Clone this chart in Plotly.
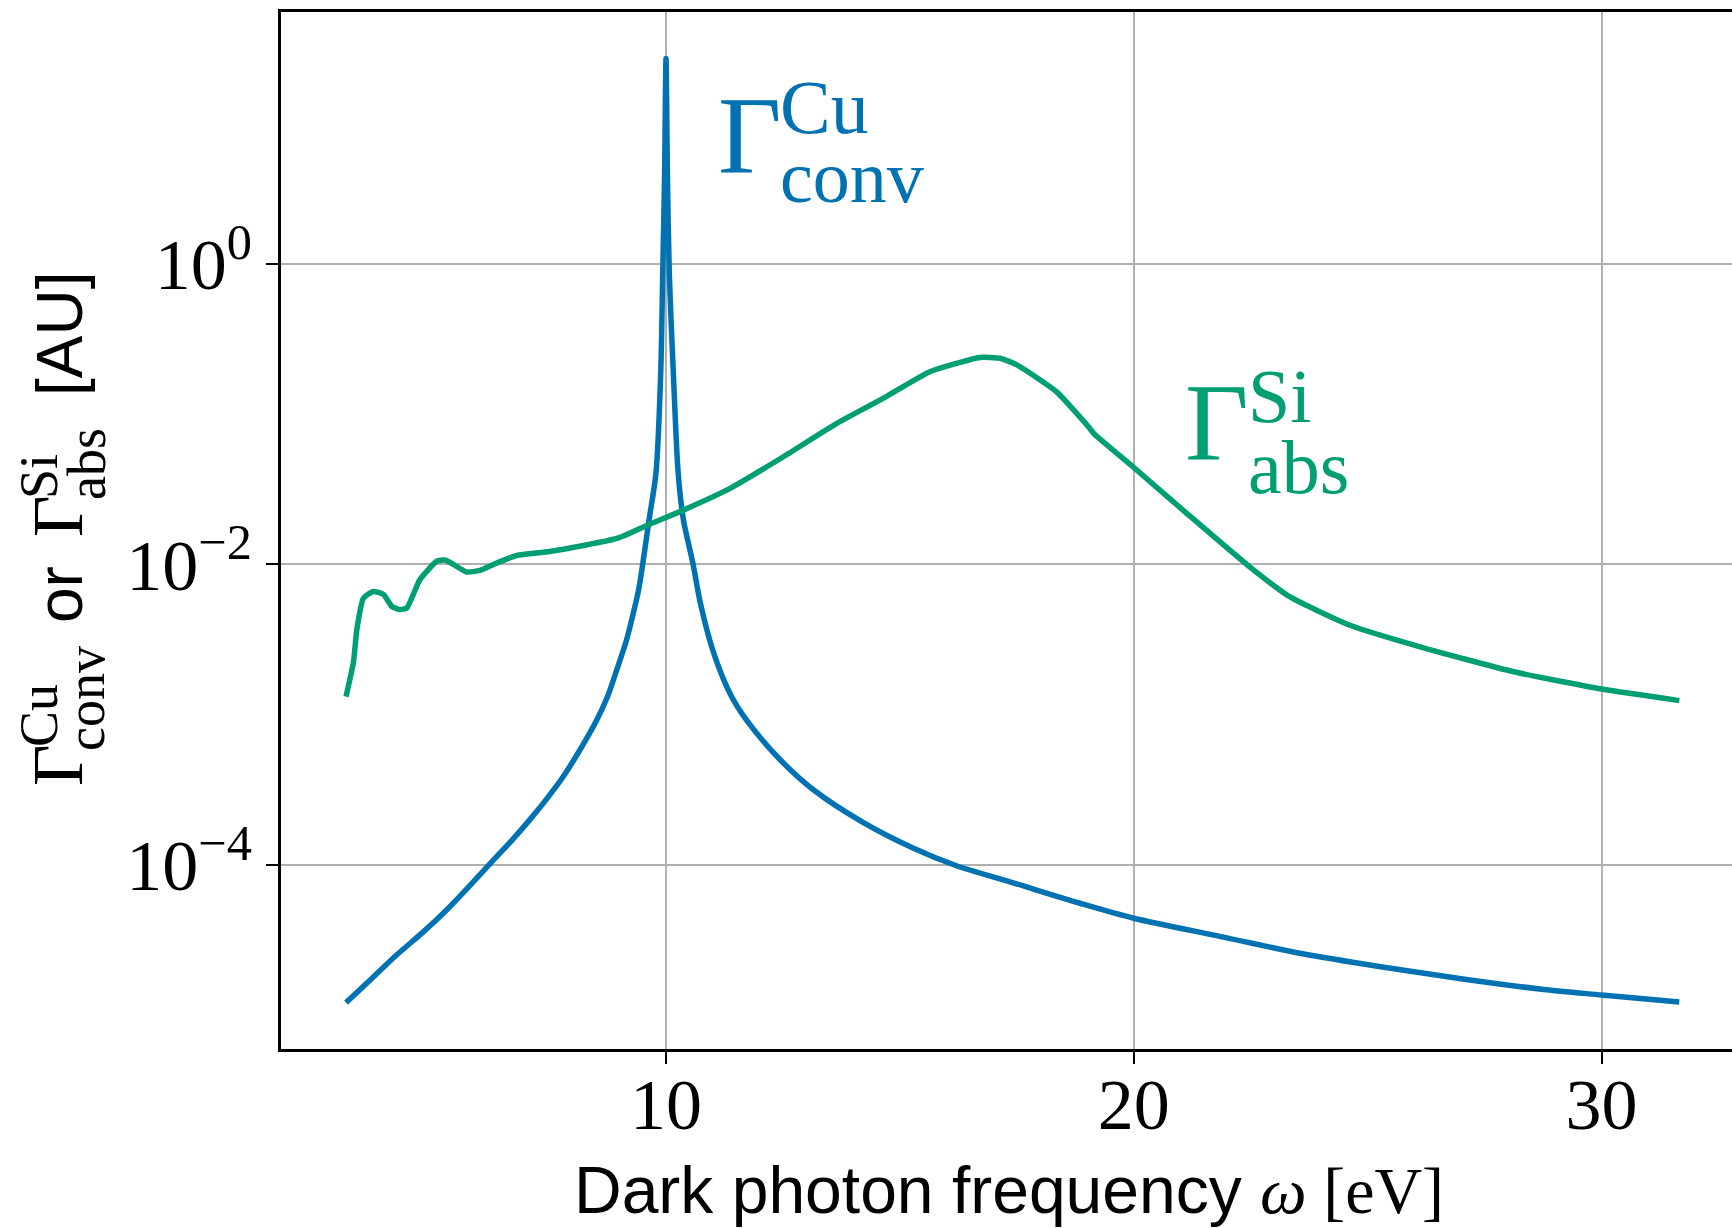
import plotly.graph_objects as go

# Dark photon frequency grid (eV) and rates (arbitrary units)
omega_cu = [3.16, 3.7, 4.24, 4.8, 5.31, 5.8, 6.24, 6.7, 7.09, 7.45, 7.80, 8.15,
            8.52, 8.75, 8.95, 9.15, 9.30, 9.42, 9.515, 9.64, 9.786, 9.887, 9.93,
            9.97, 10.0, 10.03, 10.07, 10.157, 10.26, 10.37, 10.48, 10.58, 10.73,
            11.01, 11.37, 11.73, 12.44, 13.15, 14.22, 15.29, 16.21, 17.42, 18.85,
            20.0, 21.86, 23.58, 25.31, 27.03, 28.76, 30.0, 31.66]
gamma_conv_cu = [1.21e-5, 1.74e-5, 2.51e-5, 3.55e-5, 5.01e-5, 7.24e-5, 1.02e-4,
                 1.45e-4, 2.00e-4, 2.75e-4, 3.86e-4, 5.75e-4, 9.20e-4, 1.32e-3,
                 2.00e-3, 3.09e-3, 4.72e-3, 6.92e-3, 1.07e-2, 2.00e-2, 4.07e-2,
                 0.188, 0.871, 3.98, 23.4, 3.98, 0.871, 0.188, 4.07e-2, 2.00e-2,
                 1.38e-2, 1.00e-2, 5.62e-3, 2.63e-3, 1.38e-3, 9.12e-4, 5.01e-4,
                 3.16e-4, 1.91e-4, 1.29e-4, 9.86e-5, 7.59e-5, 5.55e-5, 4.41e-5,
                 3.33e-5, 2.57e-5, 2.09e-5, 1.74e-5, 1.48e-5, 1.36e-5, 1.22e-5]

omega_si = [3.16, 3.32, 3.39, 3.53, 3.74, 3.96, 4.14, 4.31, 4.46, 4.74, 5.10, 5.28,
            5.74, 6.02, 6.31, 6.81, 7.52, 8.95, 9.66, 10.37, 11.37, 12.51, 13.65,
            14.65, 15.64, 16.71, 17.14, 17.50, 18.35, 19.06, 19.14, 20.0, 21.13,
            22.43, 23.33, 24.62, 26.12, 28.12, 30.0, 31.66]
gamma_abs_si = [1.32e-3, 2.25e-3, 3.66e-3, 5.94e-3, 6.61e-3, 6.31e-3, 5.25e-3,
                5.01e-3, 5.13e-3, 7.94e-3, 1.05e-2, 1.07e-2, 8.91e-3, 9.12e-3,
                1.00e-2, 1.15e-2, 1.22e-2, 1.49e-2, 1.86e-2, 2.30e-2, 3.21e-2,
                5.21e-2, 8.69e-2, 0.128, 0.192, 0.239, 0.236, 0.213, 0.141,
                8.05e-2, 7.46e-2, 4.42e-2, 2.19e-2, 9.91e-3, 6.10e-3, 3.94e-3,
                2.83e-3, 1.93e-3, 1.48e-3, 1.24e-3]

x_ticks = [10, 20, 30]
x_tick_text = ["10", "20", "30"]
y_ticks = [1, 1e-2, 1e-4]
y_tick_text = ["10<sup>0</sup>", "10<sup>\u22122</sup>", "10<sup>\u22124</sup>"]

BLUE = "#0072B2"
GREEN = "#009E73"
SERIF = "Liberation Serif"
SANS = "Liberation Sans"

W, H = 1732, 1228
L, T, R, B = 281, 12, 1732, 1049


def paper(px, py):
    return (px - L) / (R - L), (B - py) / (B - T)


fig = go.Figure()
fig.add_trace(go.Scatter(x=omega_cu, y=gamma_conv_cu, mode="lines",
                         line=dict(color=BLUE, width=5.5, shape="spline", smoothing=0.8),
                         showlegend=False))
fig.add_trace(go.Scatter(x=omega_si, y=gamma_abs_si, mode="lines",
                         line=dict(color=GREEN, width=5.5, shape="spline", smoothing=0.5),
                         showlegend=False))

annotations = []


def label(text, px, py, size, color, family=SERIF, xanchor="left", angle=0):
    xp, yp = paper(px, py)
    annotations.append(dict(text=text, x=xp, y=yp, xref="paper", yref="paper",
                            xanchor=xanchor, yanchor="middle", showarrow=False,
                            textangle=angle,
                            font=dict(family=family, size=size, color=color)))


# curve labels: Gamma with stacked super/subscripts
label("\u0393", 716, 136, 110, BLUE)
label("Cu", 778, 107, 76, BLUE)
label("conv", 778, 177, 74, BLUE)
label("\u0393", 1183, 423, 110, GREEN)
label("Si", 1246, 396, 76, GREEN)
label("abs", 1246, 467, 76, GREEN)

# rotated y-axis title
label("\u0393", 58, 765, 72, "black", xanchor="center", angle=-90)
label("Cu", 39, 716, 54, "black", xanchor="center", angle=-90)
label("conv", 86, 699, 54, "black", xanchor="center", angle=-90)
label("or", 60, 595, 64, "black", family=SANS, xanchor="center", angle=-90)
label("\u0393", 58, 516, 72, "black", xanchor="center", angle=-90)
label("Si", 39, 477, 54, "black", xanchor="center", angle=-90)
label("abs", 87, 464, 54, "black", xanchor="center", angle=-90)
label("[AU]", 60, 334, 64, "black", family=SANS, xanchor="center", angle=-90)

# x-axis title
label("Dark photon frequency <span style='font-family:Liberation Serif'><i>\u03c9</i> [eV]</span>",
      1009, 1190, 66, "black", family=SANS, xanchor="center")

fig.update_layout(
    width=W, height=H,
    margin=dict(l=L, r=W - R, t=T, b=H - B, pad=0),
    paper_bgcolor="white", plot_bgcolor="white",
    annotations=annotations,
)
fig.update_xaxes(
    range=[1.770, 32.787], tickvals=x_ticks, ticktext=x_tick_text,
    showgrid=True, gridcolor="#b0b0b0", gridwidth=2, zeroline=False,
    showline=True, linecolor="black", linewidth=2.5, mirror=True,
    ticks="outside", ticklen=12, tickwidth=2, tickcolor="black",
    tickfont=dict(family=SERIF, size=72, color="black"),
    ticklabelstandoff=-21,
)
fig.update_yaxes(
    type="log", range=[-5.226, 1.678], tickvals=y_ticks, ticktext=y_tick_text,
    showgrid=True, gridcolor="#b0b0b0", gridwidth=2, zeroline=False,
    showline=True, linecolor="black", linewidth=2.5, mirror=False,
    ticks="outside", ticklen=12, tickwidth=2, tickcolor="black",
    tickfont=dict(family=SERIF, size=72, color="black"),
    ticklabelstandoff=0,
)

fig.write_html("out.html")
